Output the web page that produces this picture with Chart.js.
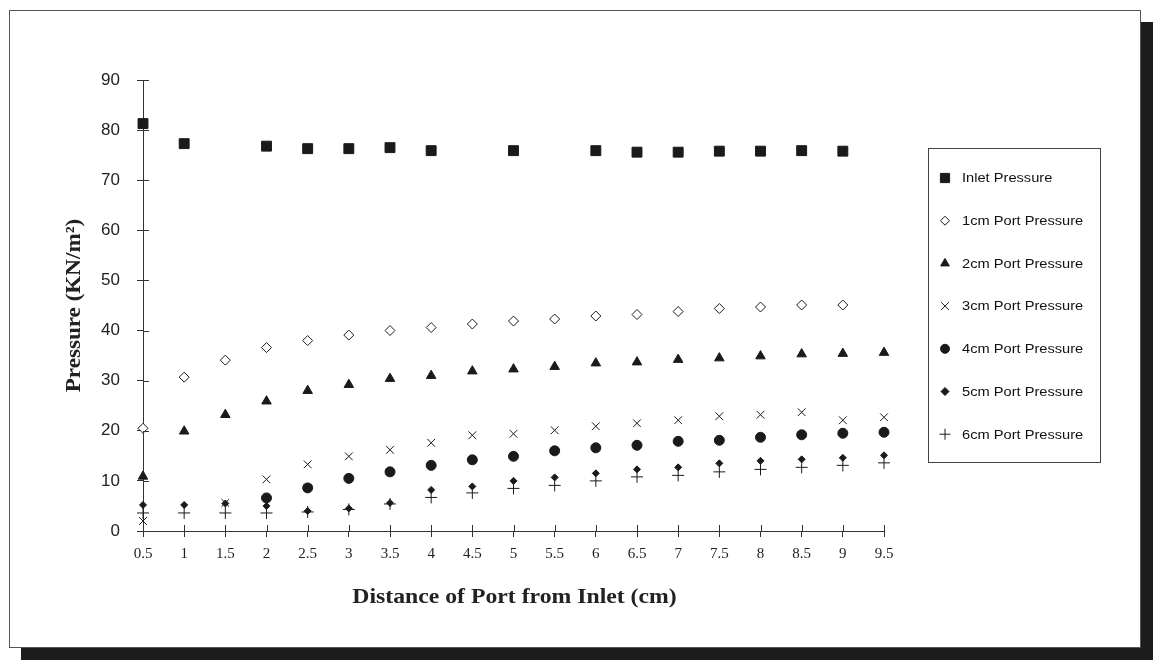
<!DOCTYPE html>
<html>
<head>
<meta charset="utf-8">
<script src="https://cdn.jsdelivr.net/npm/chart.js@4/dist/chart.umd.min.js"></script>
<style>
  body { margin: 0; background: #fff; }
  #frame {
    position: absolute; left: 9px; top: 10px; width: 1130px; height: 636px;
    border: 1px solid #555; background: #fff;
    box-shadow: 12px 12px 0 0 #1c1c1c;
  }
  #chart { position: absolute; left: 0; top: 0; }
</style>
</head>
<body>
<div id="frame"></div>
<canvas id="chart" width="1158" height="663"></canvas>
<script>
// Distance of port from inlet (cm)
const distances = [0.5, 1, 1.5, 2, 2.5, 3, 3.5, 4, 4.5, 5, 5.5, 6, 6.5, 7, 7.5, 8, 8.5, 9, 9.5];
const yTicks = [0, 10, 20, 30, 40, 50, 60, 70, 80, 90];

// Pressures (KN/m^2)
const inletPressure = [81.3, 77.3, null, 76.8, 76.3, 76.3, 76.5, 75.9, null, 75.9, null, 75.9, 75.6, 75.6, 75.8, 75.8, 75.9, 75.8, null];
const port1cm = [20.5, 30.7, 34.1, 36.6, 38.0, 39.1, 40.0, 40.6, 41.3, 41.9, 42.3, 42.9, 43.2, 43.8, 44.4, 44.7, 45.1, 45.1, null];
const port2cm = [10.9, 19.9, 23.2, 25.9, 28.0, 29.2, 30.4, 31.0, 31.9, 32.3, 32.8, 33.5, 33.7, 34.2, 34.5, 34.9, 35.3, 35.4, 35.6];
const port3cm = [2.0, null, 5.6, 10.3, 13.3, 14.9, 16.2, 17.6, 19.1, 19.4, 20.1, 20.9, 21.5, 22.1, 22.9, 23.2, 23.7, 22.1, 22.7];
const port4cm = [null, null, null, 6.6, 8.6, 10.5, 11.8, 13.1, 14.2, 14.9, 16.0, 16.6, 17.1, 17.9, 18.1, 18.7, 19.2, 19.5, 19.7];
const port5cm = [5.2, 5.2, 5.5, 5.0, 4.0, 4.5, 5.6, 8.2, 8.9, 10.0, 10.7, 11.5, 12.3, 12.7, 13.5, 14.0, 14.3, 14.6, 15.1];
const port6cm = [3.6, 3.6, 3.6, 3.6, 3.8, 4.3, 5.4, 6.7, 7.6, 8.5, 9.1, 10.0, 10.8, 11.1, 11.8, 12.3, 12.7, 13.1, 13.6];

const seriesNames = ['Inlet Pressure', '1cm Port Pressure', '2cm Port Pressure', '3cm Port Pressure',
                     '4cm Port Pressure', '5cm Port Pressure', '6cm Port Pressure'];
const xTitle = 'Distance of Port from Inlet (cm)';
const yTitle = 'Pressure (KN/m²)';

const ink = '#1a1a1a';
const serif = '"Liberation Serif", "Times New Roman", serif';
const sans = '"Liberation Sans", Arial, sans-serif';

function pts(values) {
    return distances.map((d, i) => ({ x: d, y: values[i] })).filter(p => p.y !== null);
}

function series(label, values, style, radius, fill, legendRadius) {
    return {
        label,
        data: pts(values),
        showLine: false,
        clip: false,
        pointStyle: style,
        pointRadius: radius,
        pointHoverRadius: radius,
        pointBorderWidth: 1,
        pointBorderColor: ink,
        pointBackgroundColor: fill,
        borderColor: ink,
        backgroundColor: fill,
        legendRadius
    };
}

const datasets = [
    series(seriesNames[0], inletPressure, 'rect', 7, ink, 6.5),
    series(seriesNames[1], port1cm, 'rectRot', 5, '#fff', 4.5),
    series(seriesNames[2], port2cm, 'triangle', 5.5, ink, 5),
    series(seriesNames[3], port3cm, 'crossRot', 5.5, ink, 5.5),
    series(seriesNames[4], port4cm, 'circle', 5, ink, 4.5),
    series(seriesNames[5], port5cm, 'rectRot', 3.5, ink, 4),
    series(seriesNames[6], port6cm, 'cross', 6, ink, 5.5)
];

// ticks that cross the axis lines (inner half) and the stretched axis titles
const axisExtras = {
    id: 'axisExtras',
    afterDatasetsDraw(chart) {
        const { ctx, scales: { x, y }, chartArea } = chart;
        ctx.save();
        ctx.strokeStyle = '#333';
        ctx.lineWidth = 1;
        ctx.beginPath();
        y.ticks.forEach(t => {
            const py = Math.round(y.getPixelForValue(t.value)) + 0.5;
            ctx.moveTo(chartArea.left, py);
            ctx.lineTo(chartArea.left + 6, py);
        });
        x.ticks.forEach(t => {
            const px = Math.round(x.getPixelForValue(t.value)) + 0.5;
            ctx.moveTo(px, chartArea.bottom);
            ctx.lineTo(px, chartArea.bottom - 6);
        });
        ctx.stroke();

        ctx.fillStyle = '#222';
        ctx.font = 'bold 21px ' + serif;
        ctx.textAlign = 'center';
        ctx.textBaseline = 'middle';

        ctx.save();
        ctx.translate((chartArea.left + chartArea.right) / 2 + 1, 598);
        ctx.scale(1.13, 1);
        ctx.fillText(xTitle, 0, 0);
        ctx.restore();

        ctx.save();
        ctx.translate(75, (chartArea.top + chartArea.bottom) / 2);
        ctx.rotate(-Math.PI / 2);
        ctx.scale(1.1, 1);
        ctx.fillText(yTitle, 0, 0);
        ctx.restore();

        ctx.restore();
    }
};

// boxed legend on the right
const boxLegend = {
    id: 'boxLegend',
    afterDraw(chart) {
        const ctx = chart.ctx;
        const box = { left: 928, top: 148, width: 172, height: 314 };
        ctx.save();
        ctx.strokeStyle = '#444';
        ctx.lineWidth = 1;
        ctx.strokeRect(box.left + 0.5, box.top + 0.5, box.width, box.height);
        chart.data.datasets.forEach((ds, i) => {
            const cy = 178 + i * 42.7;
            ctx.strokeStyle = ds.pointBorderColor;
            ctx.fillStyle = ds.pointBackgroundColor;
            Chart.helpers.drawPoint(ctx, {
                pointStyle: ds.pointStyle,
                radius: ds.legendRadius,
                borderWidth: 1,
                rotation: 0
            }, 945, cy);
            ctx.save();
            ctx.translate(962, cy);
            ctx.scale(1.22, 1);
            ctx.fillStyle = '#111';
            ctx.font = '12px ' + sans;
            ctx.textBaseline = 'middle';
            ctx.fillText(ds.label, 0, 1);
            ctx.restore();
        });
        ctx.restore();
    }
};

new Chart(document.getElementById('chart'), {
    type: 'scatter',
    data: { datasets },
    options: {
        responsive: false,
        animation: false,
        layout: { padding: { top: 80, right: 274, bottom: 0, left: 0 } },
        plugins: { legend: { display: false }, tooltip: { enabled: false } },
        scales: {
            x: {
                type: 'linear',
                min: 0.5,
                max: 9.5,
                afterFit: s => { s.height = 132; },
                afterBuildTicks: s => { s.ticks = distances.map(v => ({ value: v })); },
                ticks: {
                    callback: v => String(v),
                    color: '#222',
                    padding: 8,
                    font: { family: serif, size: 15 }
                },
                grid: { drawOnChartArea: false, tickLength: 6, color: '#333' },
                border: { display: true, color: '#333', width: 1 }
            },
            y: {
                min: 0,
                max: 90,
                afterFit: s => { s.width = 143; },
                afterBuildTicks: s => { s.ticks = yTicks.map(v => ({ value: v })); },
                ticks: {
                    color: '#222',
                    padding: 17,
                    font: { family: sans, size: 17 }
                },
                grid: { drawOnChartArea: false, tickLength: 6, color: '#333' },
                border: { display: true, color: '#333', width: 1 }
            }
        }
    },
    plugins: [axisExtras, boxLegend]
});
</script>
</body>
</html>
